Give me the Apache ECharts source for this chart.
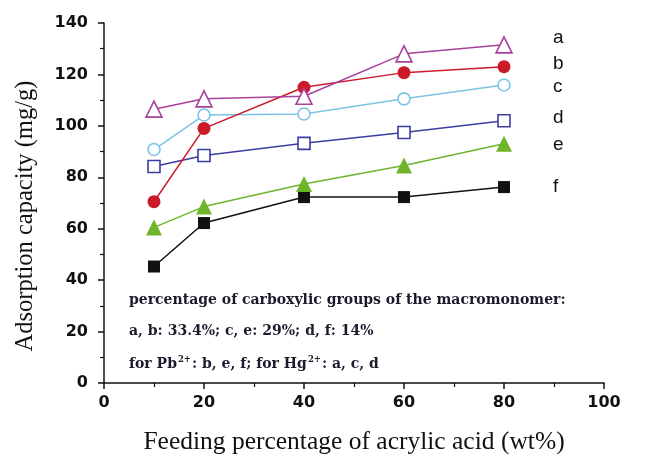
<!DOCTYPE html>
<html>
<head>
<meta charset="utf-8">
<script src="https://cdn.jsdelivr.net/npm/echarts@6/dist/echarts.min.js"></script>
<style>
  html, body { margin: 0; padding: 0; background: #fff; }
  #chart { width: 656px; height: 457px; }
</style>
</head>
<body>
<div id="chart"></div>
<script>
// Feeding percentage of acrylic acid (wt%)
const feedPct = [10, 20, 40, 60, 80];

// Adsorption capacity (mg/g) for each sample series
const seriesA = [106.5, 110.5, 111.5, 128, 131.5];
const seriesB = [70.5, 99, 115, 120.7, 123];
const seriesC = [90.8, 104.2, 104.6, 110.5, 115.9];
const seriesD = [84.2, 88.5, 93.2, 97.4, 102];
const seriesE = [60.5, 68.6, 77.4, 84.6, 93];
const seriesF = [45.3, 62.2, 72.3, 72.3, 76.2];

const seriesNames = ['a', 'b', 'c', 'd', 'e', 'f'];
const xTicks = [0, 20, 40, 60, 80, 100];
const yTicks = [0, 20, 40, 60, 80, 100, 120, 140];

const noteLines = [
  'percentage of carboxylic groups of the macromonomer:',
  'a, b: 33.4%; c, e: 29%; d, f: 14%',
  'for Pb{sup|2+}: b, e, f; for Hg{sup|2+}: a, c, d'
];

const styles = [
  { color: '#a8409c', symbol: 'triangle', size: 16, hollow: true,  dy: -7 },
  { color: '#cc1a2a', symbol: 'circle',   size: 13, hollow: false, dy: -3 },
  { color: '#7cc4e4', symbol: 'circle',   size: 12, hollow: true,  dy: 2 },
  { color: '#3b3ea0', symbol: 'rect',     size: 12, hollow: true,  dy: -3 },
  { color: '#6eb52c', symbol: 'triangle', size: 16, hollow: false, dy: 1 },
  { color: '#111111', symbol: 'rect',     size: 12, hollow: false, dy: 0 }
];

const values = [seriesA, seriesB, seriesC, seriesD, seriesE, seriesF];

const series = values.map((vals, i) => {
  const s = styles[i];
  return {
    name: seriesNames[i],
    type: 'line',
    data: feedPct.map((x, k) => [x, vals[k]]),
    symbol: s.symbol,
    symbolSize: s.size,
    lineStyle: { color: s.color, width: 1.5 },
    itemStyle: s.hollow
      ? { color: '#ffffff', borderColor: s.color, borderWidth: 1.6 }
      : { color: s.color, borderColor: s.color, borderWidth: 0 },
    emphasis: { disabled: true },
    animation: false,
    z: 10 - i,
    endLabel: {
      show: true,
      formatter: seriesNames[i],
      distance: 0,
      offset: [49, s.dy],
      color: '#111',
      fontFamily: 'Liberation Sans, Arial, sans-serif',
      fontSize: 19
    }
  };
});

const axisFont = {
  color: '#111',
  fontFamily: 'DejaVu Sans, sans-serif',
  fontWeight: 'bold',
  fontSize: 16
};

const chart = echarts.init(document.getElementById('chart'), null, { renderer: 'canvas' });
chart.setOption({
  backgroundColor: '#ffffff',
  animation: false,
  grid: { left: 104, right: 52, top: 23, bottom: 74, containLabel: false, outerBoundsMode: 'none' },
  xAxis: {
    type: 'value',
    min: xTicks[0],
    max: xTicks[xTicks.length - 1],
    interval: xTicks[1] - xTicks[0],
    name: 'Feeding percentage of acrylic acid (wt%)',
    nameLocation: 'middle',
    nameGap: 46,
    nameTextStyle: { color: '#111', fontFamily: 'Liberation Serif, Times New Roman, serif', fontSize: 25.5 },
    axisLine: { lineStyle: { color: '#111', width: 1.5 } },
    axisTick: { inside: false, length: 6, lineStyle: { color: '#111', width: 1.5 } },
    minorTick: { show: true, splitNumber: 2, length: 4, lineStyle: { color: '#111', width: 1.2 } },
    axisLabel: Object.assign({ margin: 12 }, axisFont),
    splitLine: { show: false }
  },
  yAxis: {
    type: 'value',
    min: yTicks[0],
    max: yTicks[yTicks.length - 1],
    interval: yTicks[1] - yTicks[0],
    name: 'Adsorption capacity (mg/g)',
    nameLocation: 'middle',
    nameGap: 66,
    nameTextStyle: {
      color: '#111',
      fontFamily: 'Liberation Serif, Times New Roman, serif',
      fontSize: 24.5,
      padding: [0, 26, 0, 0]
    },
    axisLine: { show: true, lineStyle: { color: '#111', width: 1.5 } },
    axisTick: { show: true, inside: false, length: 6, lineStyle: { color: '#111', width: 1.5 } },
    minorTick: { show: true, splitNumber: 2, length: 4, lineStyle: { color: '#111', width: 1.2 } },
    axisLabel: Object.assign({ margin: 16 }, axisFont),
    splitLine: { show: false }
  },
  graphic: noteLines.map((txt, i) => ({
    type: 'text',
    left: 129,
    top: 293 + i * 31,
    silent: true,
    style: {
      text: txt,
      fill: '#1e1a2c',
      font: 'bold 14px "DejaVu Serif", serif',
      rich: {
        sup: { fontSize: 8.5, fontWeight: 'bold', fontFamily: 'DejaVu Serif, serif', fill: '#1e1a2c', verticalAlign: 'top', padding: [0, 1, 9, 1] }
      }
    }
  })),
  series: series
});
</script>
</body>
</html>
